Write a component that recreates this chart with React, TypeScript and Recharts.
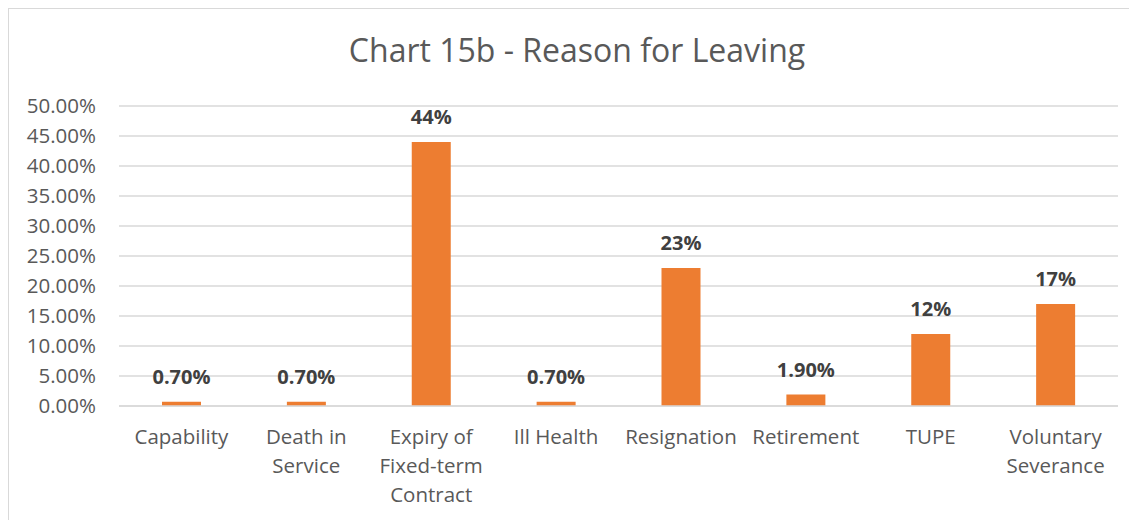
import React from "react";
import { BarChart, Bar, XAxis, YAxis, CartesianGrid, LabelList } from "recharts";

const categories = [
  "Capability",
  "Death in Service",
  "Expiry of Fixed-term Contract",
  "Ill Health",
  "Resignation",
  "Retirement",
  "TUPE",
  "Voluntary Severance",
];
const categoryLines: string[][] = [
  ["Capability"],
  ["Death in", "Service"],
  ["Expiry of", "Fixed-term", "Contract"],
  ["Ill Health"],
  ["Resignation"],
  ["Retirement"],
  ["TUPE"],
  ["Voluntary", "Severance"],
];
const values = [0.7, 0.7, 44, 0.7, 23, 1.9, 12, 17];
const valueLabels = ["0.70%", "0.70%", "44%", "0.70%", "23%", "1.90%", "12%", "17%"];
const yTicks = [0, 5, 10, 15, 20, 25, 30, 35, 40, 45, 50];

const data = categories.map((c, i) => ({
  name: c,
  lines: categoryLines[i],
  value: values[i],
  label: valueLabels[i],
}));

const FONT = "'Open Sans', 'Noto Sans', sans-serif";

const XTick = (props: any) => {
  const { x, y, index } = props;
  const lines = categoryLines[index] || [];
  return (
    <g>
      {lines.map((l, i) => (
        <text
          key={i}
          x={x}
          y={y + 30 + i * 29}
          textAnchor="middle"
          fill="#595959"
          fontSize={20.5}
          fontFamily={FONT}
        >
          {l}
        </text>
      ))}
    </g>
  );
};

export default function App() {
  return (
    <div
      style={{
        position: "relative",
        width: 1129,
        height: 512,
        borderTop: "1px solid #d9d9d9",
        borderLeft: "1px solid #d9d9d9",
        background: "#fff",
        fontFamily: FONT,
      }}
    >
      <div
        style={{
          position: "absolute",
          top: 21,
          left: 0,
          width: 1136,
          textAlign: "center",
          fontSize: 32,
          color: "#595959",
          fontFamily: FONT,
          lineHeight: "40px",
        }}
      >
        Chart 15b - Reason for Leaving
      </div>
      <BarChart
        width={1129}
        height={511}
        data={data}
        margin={{ top: 97, right: 20, bottom: 0, left: 0 }}
        barCategoryGap={43}
      >
        <CartesianGrid vertical={false} stroke="#d9d9d9" strokeWidth={1.3} />
        <XAxis
          dataKey="name"
          axisLine={{ stroke: "#d9d9d9", strokeWidth: 1.3 }}
          tickLine={false}
          interval={0}
          height={114}
          tick={<XTick />}
        />
        <YAxis
          domain={[0, 50]}
          ticks={yTicks}
          width={110}
          axisLine={false}
          tickLine={false}
          tickSize={0}
          tickMargin={23}
          interval={0}
          tickFormatter={(v: number) => v.toFixed(2) + "%"}
          tick={{ fill: "#595959", fontSize: 20.5, fontFamily: FONT }}
        />
        <Bar dataKey="value" fill="#ED7D31" isAnimationActive={false}>
          <LabelList
            dataKey="label"
            position="top"
            offset={18}
            fill="#404040"
            fontSize={20}
            fontWeight="bold"
            fontFamily={FONT}
          />
        </Bar>
      </BarChart>
    </div>
  );
}
